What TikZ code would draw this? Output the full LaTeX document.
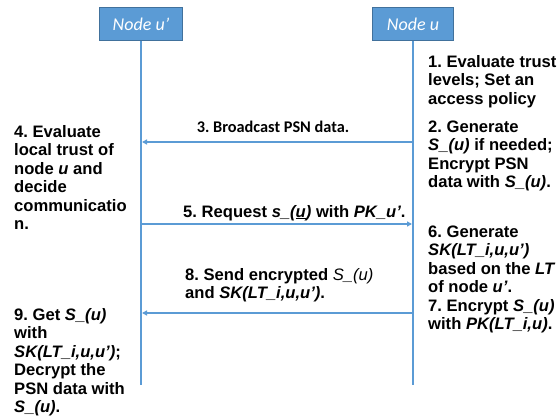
\documentclass[tikz,border=0pt]{standalone}
\usepackage{fontspec}
\setmainfont{Liberation Sans}
\newfontfamily\calfont{Carlito}
\usetikzlibrary{arrows.meta}
\definecolor{lblue}{HTML}{5B9BD5}
\definecolor{dblue}{HTML}{41719C}
\frenchspacing
\begin{document}
\begin{tikzpicture}[x=1pt,y=-1pt,
  actor/.style={draw=dblue, line width=0.8pt, fill=lblue, text=white,
    font=\calfont\itshape\fontsize{18}{20}\selectfont,
    minimum width=83pt, minimum height=33pt, inner sep=0pt},
  life/.style={lblue, line width=2pt},
  msg/.style={lblue, line width=2pt, shorten >=1pt, -{Triangle[length=5pt,width=5pt]}},
  note/.style={font=\bfseries\fontsize{16.6}{18.5}\selectfont, align=left,
    inner sep=0pt, anchor=base west},
  arrlabel/.style={font=\calfont\bfseries\fontsize{16.3}{18}\selectfont, inner sep=0pt, anchor=base}
]
\useasboundingbox[fill=white] (0,0) rectangle (560,420);
% actors
\node[actor] (up) at (141,24) {Node u’};
\node[actor, minimum width=81pt] (u) at (413,24) {Node u};
\coordinate (upend) at (141,385);
\coordinate (uend) at (413,385);
\draw[life] (up.south) -- (upend);
\draw[life] (u.south) -- (uend);
% message endpoints
\coordinate (r3) at (413,142);
\coordinate (l3) at (141,142);
\coordinate (l5) at (141,224);
\coordinate (r5) at (413,224);
\coordinate (r8) at (413,313);
\coordinate (l8) at (141,313);
\draw[msg] (r3) -- (l3);
\draw[msg] (l5) -- (r5);
\draw[msg] (r8) -- (l8);
% message labels (base anchor = baseline of the last line)
\node[arrlabel] (t3) at (273,132) {3. Broadcast PSN data.};
\node[note] (t5) at (183,217) {5. Request \textit{s\_(\underline{u})} with \textit{PK\_u’}.};
\node[note] (t8) at (185,298.5) {8. Send encrypted \textmd{\textit{S\_(u)}}\\and \textit{SK(LT\_i,u,u’)}.};
% side notes
\node[note] (n1) at (428,104) {1. Evaluate trust\\levels; Set an\\access policy};
\node[note] (n2) at (428,187.5) {2. Generate\\\textit{S\_(u)} if needed;\\Encrypt PSN\\data with \textit{S\_(u)}.};
\node[note] (n4) at (14,229.5) {4. Evaluate\\local trust of\\node \textit{u} and\\decide\\communicatio\\n.};
\node[note] (n6) at (428,329.5) {6. Generate\\\textit{SK(LT\_i,u,u’)}\\based on the \textit{LT}\\of node \textit{u’}.\\7. Encrypt \textit{S\_(u)}\\with \textit{PK(LT\_i,u)}.};
\node[note] (n9) at (14,412.5) {9. Get \textit{S\_(u)}\\with\\\textit{SK(LT\_i,u,u’)};\\Decrypt the\\PSN data with\\\textit{S\_(u)}.};
\end{tikzpicture}
\end{document}
